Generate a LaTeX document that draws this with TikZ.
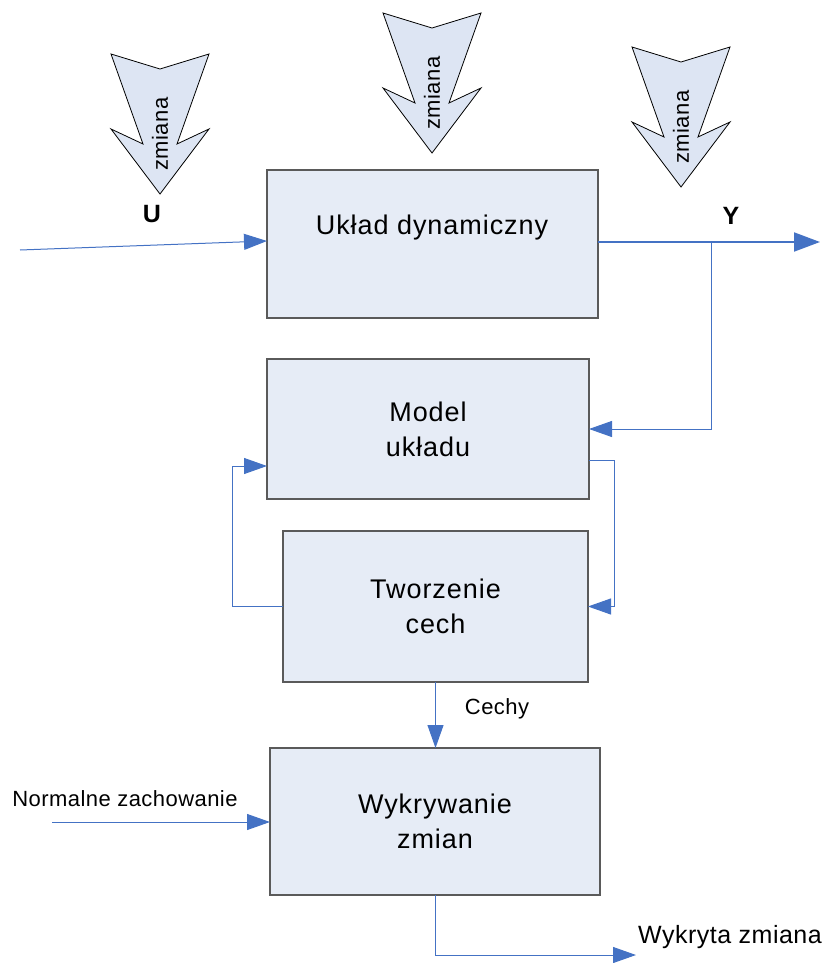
\documentclass[tikz,border=0pt]{standalone}
\usepackage{fontspec}
\setmainfont{Liberation Sans}
\newfontfamily\spacedfont[LetterSpace=3.5]{Liberation Sans}
\newfontfamily\lspfont[LetterSpace=2]{Liberation Sans}
\usetikzlibrary{arrows.meta}
\definecolor{lnblue}{HTML}{4472C4}
\definecolor{boxfill}{HTML}{E6ECF6}
\definecolor{arrfill}{HTML}{DDE5F3}
\definecolor{boxline}{HTML}{5A5A5A}
\begin{document}
\begin{tikzpicture}[x=1pt,y=-1pt,
  blockbox/.style={draw=boxline,line width=1.5pt,fill=boxfill,inner sep=0pt,outer sep=0pt},
  blocktext/.style={font=\spacedfont\fontsize{27}{35}\selectfont,align=center},
  lbl/.style={font=\lspfont\fontsize{22}{26}\selectfont},
  biglbl/.style={font=\lspfont\fontsize{25}{30}\selectfont},
  iolbl/.style={font=\bfseries\fontsize{25}{30}\selectfont},
  conn/.style={draw=lnblue,line width=1pt,-{Triangle[length=23pt,width=16pt]}},
  thickconn/.style={draw=lnblue,line width=2pt,-{Triangle[length=26pt,width=19pt]}},
  chg/.pic={
    \draw[fill=arrfill,draw=black,line width=0.8pt,line join=miter]
      (-49,0) -- (-17,90) -- (-49,75) -- (0,140) -- (49,75) -- (17,90) -- (49,0) -- (0,15) -- cycle;
    \node[rotate=90,font=\lspfont\fontsize{22}{26}\selectfont] (-t) at (0,80) {zmiana};
  }]
\useasboundingbox (0,0) rectangle (827,963);

% blocks
\node[blockbox,minimum width=331pt,minimum height=148pt] (ud) at (432.5,244) {};
\node[blocktext] (udt) at (432,228) {Układ dynamiczny};
\node[blockbox,minimum width=322pt,minimum height=140pt,blocktext] (mu) at (428,429) {Model\\układu};
\node[blockbox,minimum width=305pt,minimum height=151pt,blocktext] (tc) at (435.5,606.5) {Tworzenie\\cech};
\node[blockbox,minimum width=330pt,minimum height=147pt,blocktext] (wz) at (435,821.5) {Wykrywanie\\zmian};

% change arrows
\pic (a1) at (160,54) {chg};
\pic (a2) at (432,13) {chg};
\pic (a3) at (681,47) {chg};

% labels
\node[iolbl] (U) at (152,214) {U};
\node[iolbl] (Y) at (731,216) {Y};
\node[lbl] (cechy) at (497,709) {Cechy};
\node[lbl] (norm) at (125,799) {Normalne zachowanie};
\node[biglbl] (wyk) at (730,937) {Wykryta zmiana};

% free ends
\coordinate (in) at (20,250);
\coordinate (out) at (820,242);
\coordinate (br) at (711,242);
\coordinate (nzin) at (52,822);
\coordinate (wkend) at (636,955);

% connectors
\draw[conn] (in) -- (ud.west |- 0,241);
\draw[thickconn] (ud.east |- out) -- (out);
\draw[conn] (br) |- (mu.east);
\draw[conn] (mu.east |- 0,460) -- ++(25,0) |- (tc.east);
\draw[conn] (tc.west) -- ++(-51,0) |- (mu.west |- 0,466);
\draw[conn] (tc.south) -- (tc.south |- wz.north);
\draw[conn] (nzin) -- (wz.west |- nzin);
\draw[conn] (wz.south) |- (wkend);
\end{tikzpicture}
\end{document}
